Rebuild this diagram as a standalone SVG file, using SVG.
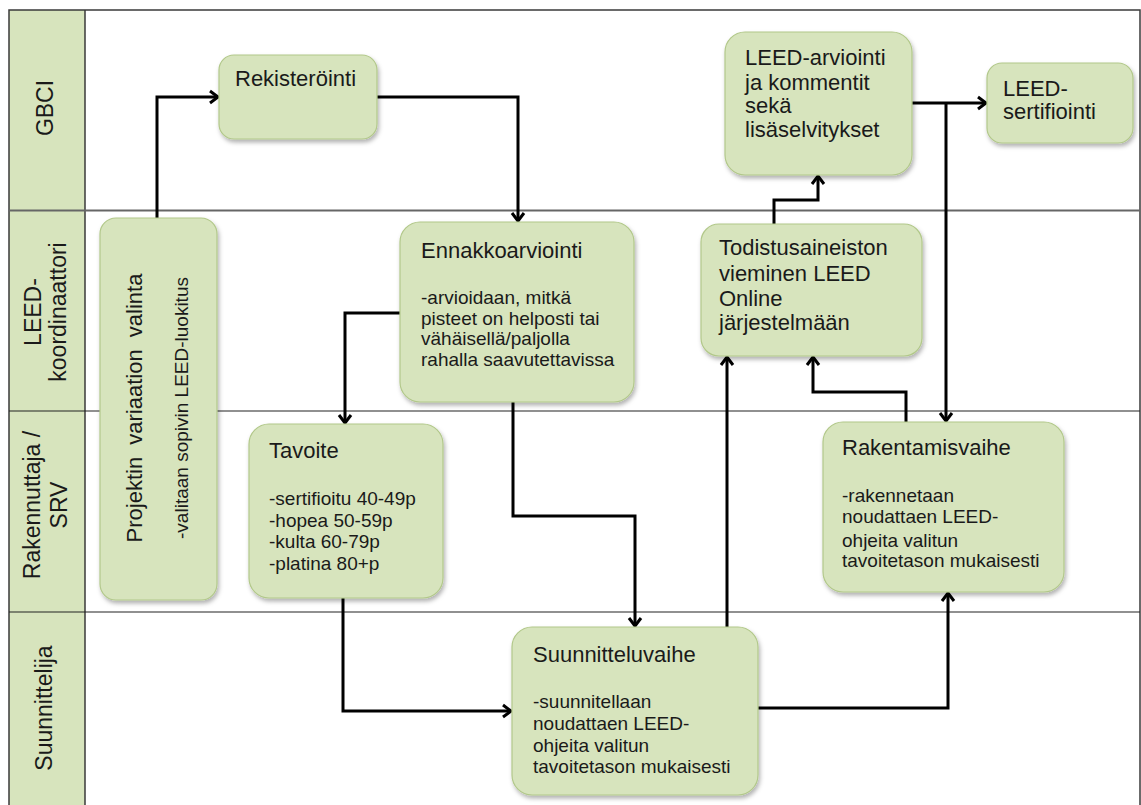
<svg xmlns="http://www.w3.org/2000/svg" width="1141" height="805" viewBox="0 0 1141 805">
<style>
.lane{fill:none;stroke:#3a3a3a;stroke-width:1.5}
.lbl{font-family:"Liberation Sans",Arial,sans-serif;font-size:23px;fill:#1a1a1a;text-anchor:middle}
.node rect{fill:#d7e4bd;stroke:#b2c88a;stroke-width:1.2;filter:url(#sh)}
.t{font-family:"Liberation Sans",Arial,sans-serif;font-size:22px;fill:#1a1a1a}
.b{font-family:"Liberation Sans",Arial,sans-serif;font-size:19px;fill:#1a1a1a}
.c{fill:none;stroke:#000;stroke-width:3;marker-end:url(#ah)}
</style>
<defs>
<filter id="sh" x="-10%" y="-10%" width="130%" height="130%">
<feDropShadow dx="1.5" dy="3" stdDeviation="2" flood-color="#000" flood-opacity="0.3"/>
</filter>
<marker id="ah" markerUnits="userSpaceOnUse" markerWidth="16" markerHeight="16" refX="11" refY="8" orient="auto">
<path d="M3,2 L11,8 L3,14" fill="none" stroke="#000" stroke-width="3"/>
</marker>
</defs>
<rect x="0" y="0" width="1141" height="805" fill="#fff"/>
<g id="lanes">
<rect x="9" y="10" width="76" height="800" fill="#d7e4bd"/>
<rect x="9" y="10" width="1131" height="800" class="lane"/>
<line x1="85" y1="10" x2="85" y2="805" class="lane"/>
<line x1="9" y1="210.5" x2="1140" y2="210.5" stroke="#666" stroke-width="2.2"/>
<line x1="9" y1="411" x2="1140" y2="411" stroke="#222" stroke-width="1.2"/>
<line x1="9" y1="612" x2="1140" y2="612" stroke="#222" stroke-width="1.2"/>
<text class="lbl" transform="translate(53,108) rotate(-90)">GBCI</text>
<text class="lbl" transform="translate(41,312) rotate(-90)">LEED-</text>
<text class="lbl" transform="translate(66,312) rotate(-90)">koordinaattori</text>
<text class="lbl" transform="translate(40,505) rotate(-90)">Rakennuttaja /</text>
<text class="lbl" transform="translate(67,505) rotate(-90)">SRV</text>
<text class="lbl" transform="translate(52,708) rotate(-90)">Suunnittelija</text>
</g>
<g id="connectors">
<path class="c" d="M157,218 V97 H218"/>
<path class="c" d="M377,97 H518 V221"/>
<path class="c" d="M400,313 H345 V423"/>
<path class="c" d="M513,402 V516 H635 V626"/>
<path class="c" d="M343,598 V711 H511"/>
<path class="c" d="M727,627 V357"/>
<path class="c" d="M758,708 H948 V593"/>
<path class="c" d="M906,422 V392 H813 V357"/>
<path class="c" d="M774,224 V200 H818 V176"/>
<path class="c" d="M912,103 H986"/>
<path class="c" d="M946,103 V421"/>
</g>
<g id="projektin" class="node">
<rect x="100" y="218" width="117" height="382" rx="16"/>
<text class="t" transform="translate(142,408) rotate(-90)" text-anchor="middle" word-spacing="6" font-size="22.5">Projektin variaation valinta</text>
<text class="b" transform="translate(188,408) rotate(-90)" text-anchor="middle">-valitaan sopivin LEED-luokitus</text>
</g>
<g id="rekisterointi" class="node">
<rect x="219" y="55" width="158" height="84" rx="15"/>
<text class="t" x="235" y="86">Rekisteröinti</text>
</g>
<g id="ennakkoarviointi" class="node">
<rect x="400" y="222" width="234" height="180" rx="20"/>
<text class="t" x="421" y="258">Ennakkoarviointi</text>
<text class="b" x="421" y="304">-arvioidaan, mitkä</text>
<text class="b" x="421" y="325">pisteet on helposti tai</text>
<text class="b" x="421" y="345">vähäisellä/paljolla</text>
<text class="b" x="421" y="366">rahalla saavutettavissa</text>
</g>
<g id="tavoite" class="node">
<rect x="249" y="424" width="194" height="174" rx="20"/>
<text class="t" x="269" y="458">Tavoite</text>
<text class="b" x="269" y="505">-sertifioitu 40-49p</text>
<text class="b" x="269" y="527">-hopea 50-59p</text>
<text class="b" x="269" y="548">-kulta 60-79p</text>
<text class="b" x="269" y="570">-platina 80+p</text>
</g>
<g id="suunnitteluvaihe" class="node">
<rect x="512" y="627" width="246" height="168" rx="20"/>
<text class="t" x="533" y="662">Suunnitteluvaihe</text>
<text class="b" x="533" y="708">-suunnitellaan</text>
<text class="b" x="533" y="730">noudattaen LEED-</text>
<text class="b" x="533" y="752">ohjeita valitun</text>
<text class="b" x="533" y="773">tavoitetason mukaisesti</text>
</g>
<g id="todistusaineisto" class="node">
<rect x="701" y="224" width="221" height="132" rx="18"/>
<text class="t" x="719" y="255">Todistusaineiston</text>
<text class="t" x="719" y="281">vieminen LEED</text>
<text class="t" x="719" y="306">Online</text>
<text class="t" x="719" y="330">järjestelmään</text>
</g>
<g id="rakentamisvaihe" class="node">
<rect x="823" y="422" width="241" height="170" rx="20"/>
<text class="t" x="842" y="455">Rakentamisvaihe</text>
<text class="b" x="842" y="502">-rakennetaan</text>
<text class="b" x="842" y="523">noudattaen LEED-</text>
<text class="b" x="842" y="547">ohjeita valitun</text>
<text class="b" x="842" y="567">tavoitetason mukaisesti</text>
</g>
<g id="leed-arviointi" class="node">
<rect x="725" y="32" width="187" height="143" rx="20"/>
<text class="t" x="745" y="65">LEED-arviointi</text>
<text class="t" x="745" y="90">ja kommentit</text>
<text class="t" x="745" y="113">sekä</text>
<text class="t" x="745" y="137">lisäselvitykset</text>
</g>
<g id="leed-sertifiointi" class="node">
<rect x="987" y="63" width="146" height="80" rx="15"/>
<text class="t" x="1003" y="96">LEED-</text>
<text class="t" x="1003" y="119">sertifiointi</text>
</g>
</svg>
